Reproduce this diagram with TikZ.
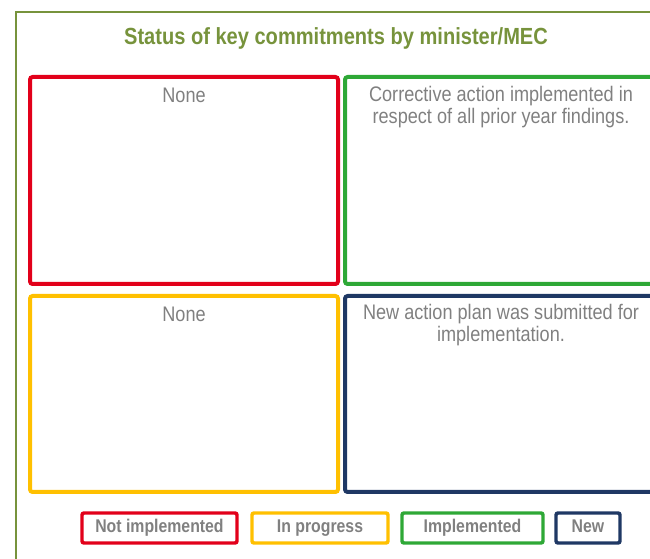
\documentclass[tikz,border=0pt]{standalone}
\usepackage{fontspec}
\setmainfont{Liberation Sans}[FakeStretch=0.86]
\definecolor{framegreen}{HTML}{77933C}
\definecolor{notred}{HTML}{E2001A}
\definecolor{doneGreen}{HTML}{2EA836}
\definecolor{progyellow}{HTML}{FFC000}
\definecolor{newnavy}{HTML}{1F3864}
\definecolor{textgray}{HTML}{808080}
\tikzset{
  statusbox/.style={draw=#1, line width=3pt, rounded corners=2pt, inner sep=0pt},
  keybox/.style={draw=#1, line width=2.6pt, rounded corners=1.5pt, inner sep=0pt,
    text=textgray, text height=0.72em, text depth=0pt,
    font=\bfseries\fontsize{13.8}{15}\selectfont},
  boxtext/.style={anchor=north, align=center, text=textgray, inner sep=0pt,
    font=\fontsize{15.8}{16.5}\selectfont}
}
\begin{document}
\begin{tikzpicture}[x=0.75pt, y=-0.75pt]
  \useasboundingbox (0,0) rectangle (650,559);
  \clip (0,0) rectangle (650,559);

  % Outer frame
  \draw[framegreen, line width=2.2pt] (16,700) -- (16,12) -- (700,12);
  \node[text=framegreen, font=\bfseries\fontsize{17.5}{19}\selectfont] (title) at (336,38) {Status of key commitments by minister/MEC};

  % Quadrants
  \node[statusbox=notred, minimum width=231pt, minimum height=155.25pt] (notimpl) at (184,180.5) {};
  \node[statusbox=doneGreen, minimum width=236.25pt, minimum height=155.25pt] (impl) at (502.5,180.5) {};
  \node[statusbox=progyellow, minimum width=231pt, minimum height=147pt] (inprog) at (184,394) {};
  \node[statusbox=newnavy, minimum width=236.25pt, minimum height=147pt] (new) at (502.5,394) {};

  % Texts in the quadrants
  \node[boxtext] (notimpltxt) at (184,88) {None};
  \node[boxtext] (impltxt) at (501,86) {Corrective action implemented in\\respect of all prior year findings.};
  \node[boxtext] (inprogtxt) at (184,307) {None};
  \node[boxtext] (newtxt) at (501,304) {New action plan was submitted for\\implementation.};

  % Legend
  \node[keybox=notred, minimum width=116.25pt, minimum height=22.5pt] (keynot) at (159.5,528) {Not implemented};
  \node[keybox=progyellow, minimum width=102pt, minimum height=22.5pt] (keyprog) at (320,528) {In progress};
  \node[keybox=doneGreen, minimum width=105.75pt, minimum height=22.5pt] (keydone) at (472.5,528) {Implemented};
  \node[keybox=newnavy, minimum width=48pt, minimum height=22.5pt] (keynew) at (588,528) {New};
\end{tikzpicture}
\end{document}
